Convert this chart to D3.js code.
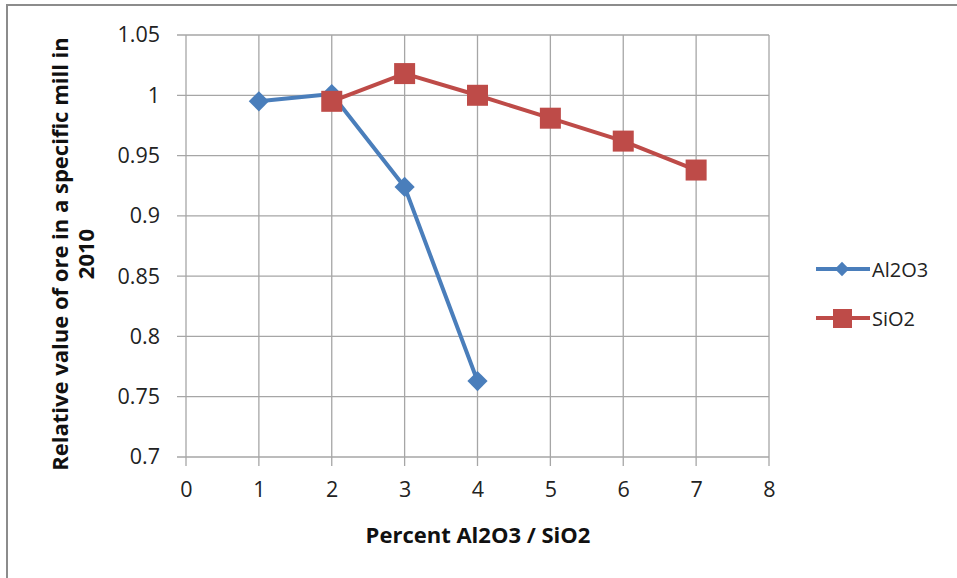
<!DOCTYPE html>
<html>
<head>
<meta charset="utf-8">
<script src="https://cdn.jsdelivr.net/npm/d3@7"></script>
<style>
  body { margin: 0; background: #fff; }
  svg { display: block; }
</style>
</head>
<body>
<div id="container"></div>
<script>
let w = 957;
let h = 578;

// data
let al2o3X = [1, 2, 3, 4];
let al2o3Y = [0.995, 1.001, 0.924, 0.763];
let sio2X = [2, 3, 4, 5, 6, 7];
let sio2Y = [0.995, 1.018, 1.0, 0.981, 0.962, 0.938];
let xTicks = [0, 1, 2, 3, 4, 5, 6, 7, 8];
let yTicks = [0.7, 0.75, 0.8, 0.85, 0.9, 0.95, 1, 1.05];
let seriesNames = ["Al2O3", "SiO2"];

let blue = "#4a7ebb";
let red = "#be4b48";
let gridColor = "#a6a6a6";
let font = "'Open Sans', sans-serif";

let viz = d3.select("#container")
  .append("svg")
    .attr("width", w)
    .attr("height", h)
;

// outer chart border (only top and left visible)
viz.append("path")
  .attr("d", "M7,578 L7,5 L957,5")
  .attr("fill", "none")
  .attr("stroke", "#8c8c8c")
  .attr("stroke-width", 2)
;

let xScale = d3.scaleLinear().domain([0, 8]).range([186, 769]);
let yScale = d3.scaleLinear().domain([0.7, 1.05]).range([457, 35]);

// grid
viz.append("g").selectAll("line").data(xTicks).enter()
  .append("line")
    .attr("x1", d => xScale(d)).attr("x2", d => xScale(d))
    .attr("y1", yScale(1.05)).attr("y2", yScale(0.7) + 9)
    .attr("stroke", gridColor).attr("stroke-width", 1.3)
;
viz.append("g").selectAll("line").data(yTicks).enter()
  .append("line")
    .attr("x1", xScale(0) - 9).attr("x2", xScale(8))
    .attr("y1", d => yScale(d)).attr("y2", d => yScale(d))
    .attr("stroke", gridColor).attr("stroke-width", 1.3)
;

// axes labels
let xAxis = d3.axisBottom(xScale).tickValues(xTicks).tickSize(0).tickPadding(25);
let xAxisGroup = viz.append("g").attr("transform", "translate(0," + yScale(0.7) + ")").call(xAxis);
let yAxis = d3.axisLeft(yScale).tickValues(yTicks).tickSize(0).tickPadding(26)
  .tickFormat(d => String(+d.toFixed(2)));
let yAxisGroup = viz.append("g").attr("transform", "translate(" + xScale(0) + ",0)").call(yAxis);
[xAxisGroup, yAxisGroup].forEach(g => {
  g.select(".domain").remove();
  g.selectAll("text")
    .style("font-family", font)
    .style("font-size", "21.5px")
    .attr("fill", "#222");
});

// series
function drawSeries(xs, ys, color) {
  let pts = xs.map((x, i) => [xScale(x), yScale(ys[i])]);
  viz.append("path")
    .attr("d", d3.line()(pts))
    .attr("fill", "none")
    .attr("stroke", color)
    .attr("stroke-width", 4)
    .attr("stroke-linejoin", "round")
  ;
  return pts;
}
let alPts = drawSeries(al2o3X, al2o3Y, blue);
viz.append("g").selectAll("path").data(alPts).enter()
  .append("path")
    .attr("d", d3.symbol(d3.symbolDiamond2, 260)())
    .attr("transform", d => "translate(" + d[0] + "," + d[1] + ")")
    .attr("fill", blue)
;
let siPts = drawSeries(sio2X, sio2Y, red);
viz.append("g").selectAll("rect").data(siPts).enter()
  .append("rect")
    .attr("x", d => d[0] - 10.5).attr("y", d => d[1] - 10.5)
    .attr("width", 21).attr("height", 21)
    .attr("fill", red)
;

// legend
let legend = viz.append("g").attr("transform", "translate(816,269)");
let legendColors = [blue, red];
seriesNames.forEach((name, i) => {
  let row = legend.append("g").attr("transform", "translate(0," + (i * 49) + ")");
  row.append("line")
    .attr("x1", 0).attr("x2", 54).attr("y1", 0).attr("y2", 0)
    .attr("stroke", legendColors[i]).attr("stroke-width", 4);
  if (i == 0) {
    row.append("path")
      .attr("d", d3.symbol(d3.symbolDiamond2, 130)())
      .attr("transform", "translate(26,0)")
      .attr("fill", blue);
  } else {
    row.append("rect")
      .attr("x", 17).attr("y", -9).attr("width", 19).attr("height", 19)
      .attr("fill", red);
  }
  row.append("text")
    .text(name)
    .attr("x", 56).attr("y", 7.5)
    .style("font-family", font)
    .style("font-size", "20px")
    .attr("fill", "#222");
});

// axis titles
viz.append("text")
  .text("Percent Al2O3 / SiO2")
  .attr("x", 478).attr("y", 543)
  .attr("text-anchor", "middle")
  .style("font-family", font)
  .style("font-size", "22px")
  .style("font-weight", "bold")
  .attr("fill", "#111")
;
let yTitle = viz.append("text")
  .attr("transform", "translate(68,254) rotate(-90)")
  .attr("text-anchor", "middle")
  .style("font-family", font)
  .style("font-size", "22px")
  .style("font-weight", "bold")
  .attr("fill", "#111")
;
yTitle.append("tspan").attr("x", 0).attr("y", 0).text("Relative value of ore in a specific mill in");
yTitle.append("tspan").attr("x", 0).attr("y", 26).text("2010");
</script>
</body>
</html>
